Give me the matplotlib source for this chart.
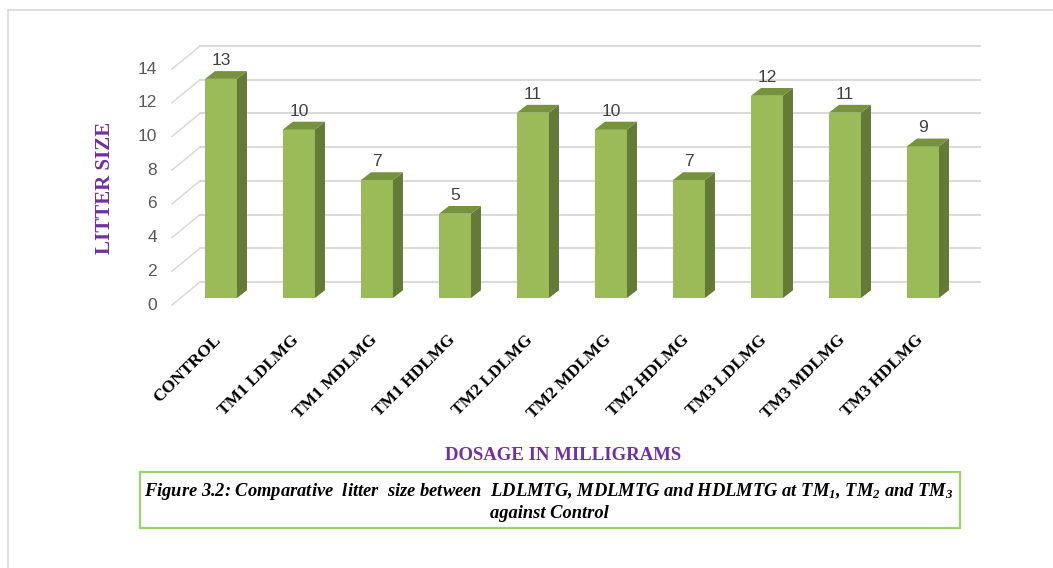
import matplotlib.pyplot as plt
from matplotlib.patches import Polygon, Rectangle
from matplotlib.lines import Line2D

plt.rcParams['mathtext.fontset'] = 'custom'
plt.rcParams['mathtext.rm'] = 'Liberation Serif:bold:italic'
plt.rcParams['mathtext.it'] = 'Liberation Serif:bold:italic'
plt.rcParams['mathtext.bf'] = 'Liberation Serif:bold:italic'

# data
categories = ["CONTROL", "TM1 LDLMG", "TM1 MDLMG", "TM1 HDLMG", "TM2 LDLMG",
              "TM2 MDLMG", "TM2 HDLMG", "TM3 LDLMG", "TM3 MDLMG", "TM3 HDLMG"]
litter_size = [13, 10, 7, 5, 11, 10, 7, 12, 11, 9]
y_ticks = [0, 2, 4, 6, 8, 10, 12, 14]

ylabel = "LITTER SIZE"
xlabel = "DOSAGE IN MILLIGRAMS"
caption1 = ("Figure 3.2: Comparative  litter  size between  LDLMTG, MDLMTG and HDLMTG "
            "at TM$_1$, TM$_2$ and TM$_3$")
caption2 = "against Control"

# colours
front_col = '#9bbb59'
side_col = '#647a37'
top_col = '#76923c'
grid_col = '#d9d9d9'
purple = '#7030a0'

W, H = 1053, 568
fig = plt.figure(figsize=(W / 100, H / 100), dpi=100)
ax = fig.add_axes([150 / W, 1 - 330 / H, 850 / W, 300 / H])
ax.set_xlim(-0.91, 9.987)
ax.set_ylim(-1.898, 15.9)
ax.axis('off')

bar_w = 0.41
dx, dy = 0.128, 0.46          # depth of a bar
front_off = -0.415            # front plane of the 3d box
wall_dx, wall_dy = 0.359, 1.364
x_front = -0.628
x_right = 9.73

# back wall gridlines + floor diagonals + tick labels
for v in y_ticks:
    y0 = v + front_off
    ax.plot([x_front, x_front + wall_dx], [y0, y0 + wall_dy], color=grid_col, lw=1.1, zorder=1)
    ax.plot([x_front + wall_dx, x_right], [y0 + wall_dy, y0 + wall_dy], color=grid_col, lw=1.4, zorder=1)
    ax.text(-0.82, y0, str(v), ha='right', va='center', fontsize=12.5,
            family='Liberation Sans', color='#595959', clip_on=False)

xs = list(range(len(categories)))
ax.bar(xs, litter_size, width=bar_w, color=front_col, zorder=3)
for x, v in zip(xs, litter_size):
    r = x + bar_w / 2
    l = x - bar_w / 2
    ax.add_patch(Polygon([(r, 0), (r + dx, dy), (r + dx, v + dy), (r, v)],
                         closed=True, fc=side_col, ec='none', zorder=3))
    ax.add_patch(Polygon([(l, v), (r, v), (r + dx, v + dy), (l + dx, v + dy)],
                         closed=True, fc=top_col, ec='none', zorder=3))
    ax.text(x, v + dy + 0.36, str(v), ha='center', va='baseline', fontsize=12.5,
            family='Liberation Sans', color='#404040')

for x, c in zip(xs, categories):
    ax.text(x - 0.1, -2.02, c, rotation=45, rotation_mode='anchor', ha='right', va='top',
            fontsize=12.5, family='Liberation Serif', weight='bold', color='black', clip_on=False)

# axis titles
fig.text(105 / W, 1 - 188 / H, ylabel, rotation=90, ha='center', va='center', fontsize=15,
         family='Liberation Serif', weight='bold', color=purple)
fig.text(563 / W, 1 - 455 / H, xlabel, ha='center', va='center', fontsize=13.5,
         family='Liberation Serif', weight='bold', color=purple)

# caption box
fig.patches.append(Rectangle((140 / W, 1 - 528 / H), 820 / W, 56 / H, transform=fig.transFigure,
                             fill=False, ec='#9bd46b', lw=1.6))
fig.text(549 / W, 1 - 491 / H, caption1, ha='center', va='center', fontsize=13.3,
         family='Liberation Serif', weight='bold', style='italic', color='black')
fig.text(549 / W, 1 - 513 / H, caption2, ha='center', va='center', fontsize=13.3,
         family='Liberation Serif', weight='bold', style='italic', color='black')

# outer frame (top and left edges only)
fig.lines.append(Line2D([8 / W, 1], [1 - 10 / H, 1 - 10 / H], transform=fig.transFigure,
                        color='#d9d9d9', lw=1.2))
fig.lines.append(Line2D([8 / W, 8 / W], [0, 1 - 10 / H], transform=fig.transFigure,
                        color='#d9d9d9', lw=1.2))

fig.savefig('out.png', dpi=100)
